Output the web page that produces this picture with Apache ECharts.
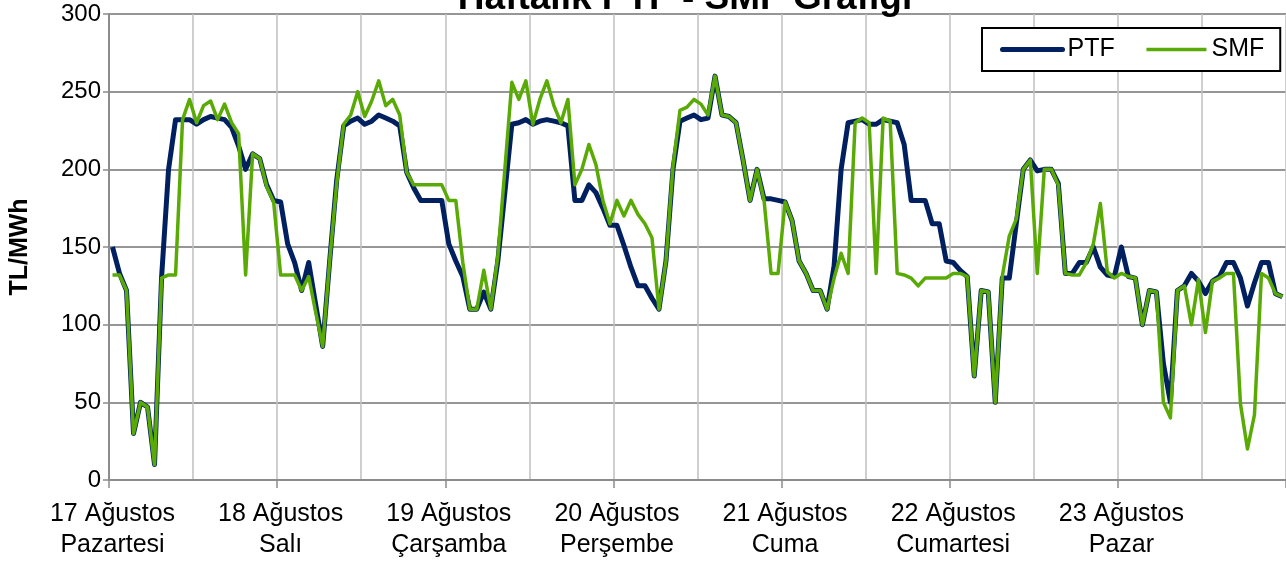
<!DOCTYPE html>
<html>
<head>
<meta charset="utf-8">
<script src="https://cdn.jsdelivr.net/npm/echarts@6/dist/echarts.min.js"></script>
<style>
html,body{margin:0;padding:0;background:#fff;}
#chart{width:1286px;height:561px;}
</style>
</head>
<body>
<div id="chart"></div>
<script>
// ---- data ----
var dayLabels = ['17 Ağustos\nPazartesi','18 Ağustos\nSalı','19 Ağustos\nÇarşamba','20 Ağustos\nPerşembe','21 Ağustos\nCuma','22 Ağustos\nCumartesi','23 Ağustos\nPazar'];
var hourLabels = ['00','01','02','03','04','05','06','07','08','09','10','11','12','13','14','15','16','17','18','19','20','21','22','23'];
var yTicks = [0,50,100,150,200,250,300];

var ptf = [
150,133,122,30,50,47,10,130,200,232,232,232,229,232,234,233,232,227,215,200,210,207,190,180,
179,152,140,122,140,113,86,141,193,228,231,233,229,231,235,233,231,228,198,188,180,180,180,180,
152,141,131,110,110,121,110,141,185,229,230,232,229,231,232,231,230,228,180,180,190,185,175,164,
164,151,137,125,125,117,110,141,200,231,233,235,232,233,260,235,234,230,206,180,200,181,181,180,
179,167,141,133,122,122,110,138,200,230,231,232,229,229,232,231,230,216,180,180,180,165,165,141,
140,135,131,67,122,121,50,130,130,165,200,206,199,200,200,191,133,133,140,140,150,137,132,131,
150,131,130,100,122,121,75,50,122,125,133,128,120,128,131,140,140,130,112,127,140,140,120,118
];
var smf = [
132,132,122,30,50,47,10,130,132,132,232,245,230,241,244,232,242,230,223,132,210,207,189,179,
132,132,132,122,131,108,86,141,191,229,235,250,234,244,257,241,245,235,198,190,190,190,190,190,
180,180,140,110,110,135,110,144,200,256,245,257,229,245,257,241,230,245,190,200,216,203,180,165,
180,170,180,171,165,156,110,141,202,238,240,245,242,235,260,235,234,230,206,180,200,180,133,133,
179,167,141,133,122,122,110,130,146,133,230,233,230,133,233,231,133,132,130,125,130,130,130,130,
133,133,131,67,122,121,50,131,157,168,200,206,133,200,200,190,133,132,132,140,152,178,134,130,
133,131,130,100,122,121,50,40,122,125,100,129,95,128,130,133,133,49,20,42,133,130,120,118
];

var categories = [];
for (var d = 0; d < dayLabels.length; d++) {
  for (var h = 0; h < hourLabels.length; h++) {
    categories.push(d + '|' + hourLabels[h]);
  }
}

var navy = '#002060', green = '#5aaa06';
var chart = echarts.init(document.getElementById('chart'));
var font = 'Liberation Sans, Arial, sans-serif';
chart.setOption({
  animation: false,
  backgroundColor: '#ffffff',
  title: {
    text: 'Haftalık PTF - SMF Grafiği',
    left: 680, textAlign: 'center',
    top: -25,
    textStyle: {fontFamily: font, fontSize: 37, fontWeight: 'bold', color: '#000'}
  },
  legend: {
    left: 982, top: 28,
    width: 298, height: 45,
    padding: [9, 16, 9, 18],
    itemWidth: 60, itemHeight: 20, itemGap: 30,
    backgroundColor: '#ffffff',
    borderColor: '#000', borderWidth: 2,
    itemStyle: {color: 'rgba(0,0,0,0)', borderColor: 'rgba(0,0,0,0)', borderWidth: 0},
    textStyle: {fontFamily: font, fontSize: 25, color: '#000'},
    data: [
      {name: 'PTF', lineStyle: {color: navy, width: 5, cap: 'round'}},
      {name: 'SMF', lineStyle: {color: green, width: 3.5}}
    ]
  },
  grid: {left: 107, top: 14, width: 1190, height: 466, containLabel: false},
  xAxis: {
    type: 'category',
    data: categories,
    boundaryGap: true,
    axisLine: {lineStyle: {color: '#8c8c8c', width: 2}},
    axisTick: {show: true, length: 8, lineStyle: {color: '#8c8c8c', width: 1.5},
      interval: function (i) { return i % 24 === 0; }},
    splitLine: {show: true, lineStyle: {color: '#bfbfbf', width: 1.5},
      interval: function (i) { return i % 12 === 0; }},
    axisLabel: {
      interval: function (i) { return i % 24 === 0; },
      formatter: function (v) { return dayLabels[parseInt(v.split('|')[0], 10)]; },
      fontFamily: font, fontSize: 25, color: '#000', lineHeight: 31, margin: 19
    }
  },
  yAxis: {
    type: 'value',
    min: yTicks[0], max: yTicks[yTicks.length - 1], interval: 50,
    name: 'TL/MWh', nameLocation: 'middle', nameGap: 76,
    nameTextStyle: {fontFamily: font, fontSize: 25, fontWeight: 'bold', color: '#000'},
    axisLine: {show: true, lineStyle: {color: '#8c8c8c', width: 2}},
    axisTick: {show: true, length: 6, lineStyle: {color: '#8c8c8c', width: 1.5}},
    splitLine: {show: true, lineStyle: {color: '#969696', width: 2}},
    axisLabel: {fontFamily: font, fontSize: 24, color: '#000', margin: 8}
  },
  series: [
    {name: 'PTF', type: 'line', data: ptf, symbol: 'none', smooth: false,
     lineStyle: {color: navy, width: 5, join: 'round'}, itemStyle: {color: navy}, z: 2},
    {name: 'SMF', type: 'line', data: smf, symbol: 'none', smooth: false,
     lineStyle: {color: green, width: 3.5, join: 'round'}, itemStyle: {color: green}, z: 3}
  ]
});
</script>
</body>
</html>
